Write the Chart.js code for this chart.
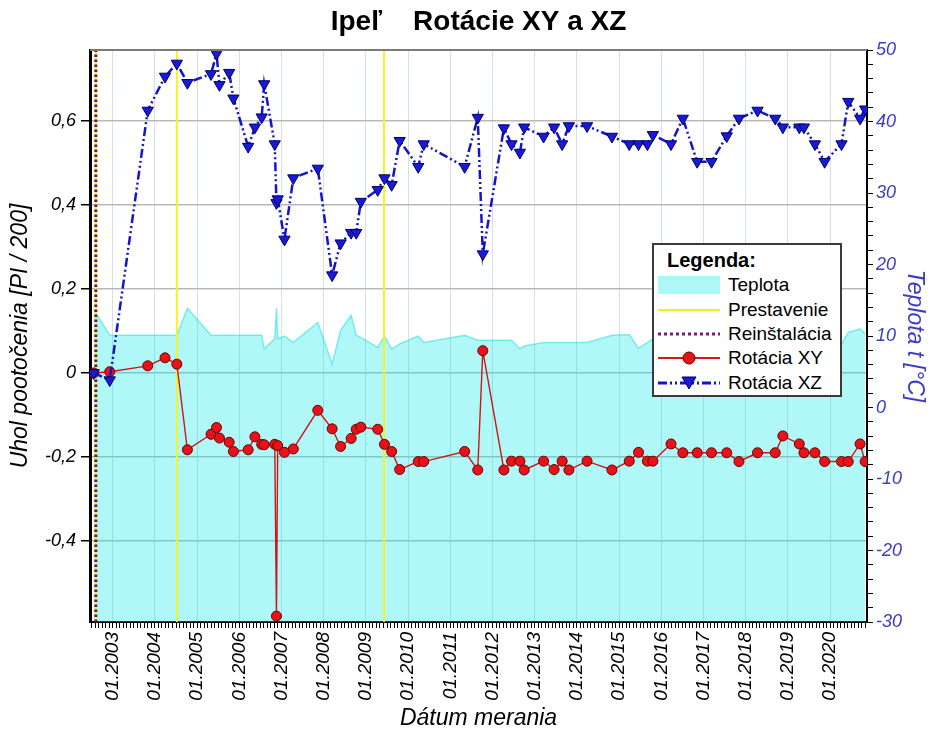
<!DOCTYPE html>
<html lang="sk">
<head>
<meta charset="utf-8">
<title>Ipeľ Rotácie XY a XZ</title>
<script src="https://cdn.jsdelivr.net/npm/chart.js@4.4.1/dist/chart.umd.min.js"></script>
<style>
  html, body { margin: 0; padding: 0; background: #fff; }
  #wrap { position: relative; width: 931px; height: 736px; }
  #chart { position: absolute; left: 0; top: 0; }
  #legend {
    position: absolute; left: 652px; top: 243px; width: 186px; height: 150px;
    border: 2px solid #3a3a3a; background: #fff; color: #000;
    font-family: 'Liberation Sans', Arial, sans-serif;
  }
  .lg-title { position: absolute; left: 13px; top: 3px; line-height: 24px; font-size: 20px; font-weight: bold; }
  .lg-row { position: absolute; left: 4px; height: 24px; line-height: 24px; font-size: 19px; display: flex; align-items: center; white-space: nowrap; }
  .lg-row svg { width: 62px; height: 20px; margin-right: 8px; flex: none; }
</style>
</head>
<body>
<div id="wrap">
  <canvas id="chart" width="931" height="736"></canvas>
  <div id="legend">
    <div class="lg-title">Legenda:</div>
    <div class="lg-row" style="top:28px"><svg viewBox="0 0 62 20"><rect x="0" y="1" width="62" height="18" fill="#aef7f7"/></svg><span>Teplota</span></div>
    <div class="lg-row" style="top:53px"><svg viewBox="0 0 62 20"><line x1="0" y1="10" x2="62" y2="10" stroke="#f0f020" stroke-width="2"/></svg><span>Prestavenie</span></div>
    <div class="lg-row" style="top:77px"><svg viewBox="0 0 62 20"><line x1="0" y1="10" x2="62" y2="10" stroke="#7a1a78" stroke-width="3" stroke-dasharray="3 3"/></svg><span>Reinštalácia</span></div>
    <div class="lg-row" style="top:101px"><svg viewBox="0 0 62 20"><line x1="0" y1="10" x2="62" y2="10" stroke="#d81818" stroke-width="2"/><circle cx="31" cy="10" r="6" fill="#e8121a" stroke="#6a0000" stroke-width="1"/></svg><span>Rotácia XY</span></div>
    <div class="lg-row" style="top:126px"><svg viewBox="0 0 62 20"><line x1="0" y1="10" x2="62" y2="10" stroke="#1414c8" stroke-width="3" stroke-dasharray="9 3 2 3 2 3"/><polygon points="24,4 38,4 31,16" fill="#1a1ad6" stroke="#00006a" stroke-width="1"/></svg><span>Rotácia XZ</span></div>
  </div>
</div>
<script>
// measurement dates as decimal years
const dates = [
  2002.55, 2002.93, 2003.83, 2004.24, 2004.52, 2004.77, 2005.33, 2005.46, 2005.53, 2005.76,
  2005.86, 2006.21, 2006.37, 2006.53, 2006.59, 2006.84, 2006.88, 2006.91, 2007.07, 2007.28,
  2007.86, 2008.20, 2008.40, 2008.65, 2008.77, 2008.88, 2009.28, 2009.44, 2009.61, 2009.80,
  2010.24, 2010.37, 2011.34, 2011.65, 2011.77, 2012.27, 2012.45, 2012.65, 2012.75, 2013.21,
  2013.46, 2013.65, 2013.81, 2014.24, 2014.83, 2015.24, 2015.46, 2015.67, 2015.80, 2016.23,
  2016.51, 2016.85, 2017.19, 2017.55, 2017.84, 2018.28, 2018.70, 2018.88, 2019.27, 2019.38,
  2019.64, 2019.87, 2020.27, 2020.43, 2020.71, 2020.83,
];

const rotXY = [
  0.000, 0.003, 0.017, 0.036, 0.021, -0.183, -0.146, -0.130, -0.155, -0.165,
  -0.187, -0.183, -0.152, -0.170, -0.171, -0.170, -0.579, -0.173, -0.189, -0.181,
  -0.089, -0.133, -0.175, -0.156, -0.134, -0.129, -0.134, -0.170, -0.187, -0.230,
  -0.211, -0.211, -0.187, -0.231, 0.053, -0.231, -0.210, -0.210, -0.231, -0.210,
  -0.230, -0.210, -0.231, -0.210, -0.231, -0.210, -0.189, -0.210, -0.210, -0.169,
  -0.190, -0.190, -0.190, -0.190, -0.211, -0.190, -0.190, -0.150, -0.169, -0.190,
  -0.190, -0.211, -0.211, -0.211, -0.169, -0.211,
];

const rotXZ = [
  0.000, -0.017, 0.625, 0.706, 0.737, 0.691, 0.712, 0.760, 0.686, 0.715,
  0.654, 0.539, 0.585, 0.609, 0.688, 0.545, 0.405, 0.414, 0.318, 0.464,
  0.487, 0.233, 0.309, 0.334, 0.334, 0.408, 0.436, 0.464, 0.448, 0.553,
  0.491, 0.545, 0.491, 0.608, 0.283, 0.583, 0.545, 0.525, 0.585, 0.563,
  0.585, 0.545, 0.588, 0.588, 0.563, 0.545, 0.545, 0.545, 0.567, 0.545,
  0.606, 0.503, 0.503, 0.564, 0.606, 0.625, 0.606, 0.585, 0.585, 0.585,
  0.545, 0.503, 0.545, 0.646, 0.606, 0.628,
];

const teplota = [
  13.7, 10.1, 10.1, 10.1, 10.1, 13.9, 10.1, 10.1, 10.1, 10.1,
  10.1, 10.1, 10.1, 10.1, 8.2, 9.6, 13.9, 9.6, 10.0, 9.1,
  11.9, 6.1, 10.8, 12.9, 10.1, 9.8, 8.4, 10.0, 8.2, 8.9,
  10.0, 9.1, 10.1, 9.4, 9.4, 9.4, 9.4, 8.2, 8.6, 9.1,
  9.1, 9.1, 9.1, 9.1, 10.1, 10.2, 8.3, 9.1, 9.6, 9.8,
  9.6, 9.8, 9.5, 9.7, 9.4, 9.8, 9.6, 9.9, 9.5, 9.7,
  9.3, 9.0, 8.9, 10.5, 11.0, 10.3,
];

const prestavenie = [2002.6, 2004.52, 2009.43];
const reinstalacia = [2002.6];

const years = [2003, 2004, 2005, 2006, 2007, 2008, 2009, 2010, 2011, 2012,
  2013, 2014, 2015, 2016, 2017, 2018, 2019, 2020];
const leftTicks = [-0.4, -0.2, 0, 0.2, 0.4, 0.6];
const rightTicks = [-30, -20, -10, 0, 10, 20, 30, 40, 50];

const xMin = 2002.462;
const xMax = 2020.874;
const leftMin = -0.593;
const leftMax = 0.769;

const fontFamily = "'Liberation Sans', Arial, sans-serif";
const blue = '#3c3cc8';

// monthly minor ticks on the date axis
const monthTicks = [];
for (let y = years[0] - 1; y <= years[years.length - 1]; y++) {
  for (let m = 0; m < 12; m++) {
    const v = y + m / 12;
    if (v >= xMin && v <= xMax) monthTicks.push(v);
  }
}
const isYear = (v) => Math.abs(v - Math.round(v)) < 1e-6;

// 2-degree minor ticks on the temperature axis
const rightMinor = [];
for (let v = rightTicks[0]; v <= rightTicks[rightTicks.length - 1]; v += 2) rightMinor.push(v);

const toPoints = (values) => dates.map((d, i) => ({ x: d, y: values[i] }));
const vertical = (d) => [{ x: d, y: leftMin }, { x: d, y: leftMax }];

const topFrame = {
  id: 'topFrame',
  afterDatasetsDraw(chart) {
    const { ctx, chartArea: a } = chart;
    ctx.save();
    ctx.strokeStyle = '#7a7a7a';
    ctx.lineWidth = 2;
    ctx.beginPath();
    ctx.moveTo(a.left, a.top);
    ctx.lineTo(a.right, a.top);
    ctx.stroke();
    ctx.restore();
  },
};

new Chart(document.querySelector('#chart'), {
  type: 'line',
  data: {
    datasets: [
      {
        label: 'Rotácia XZ', data: toPoints(rotXZ), yAxisID: 'y', order: 0,
        borderColor: '#1414c8', borderWidth: 2.5, borderDash: [9, 3, 2, 3, 2, 3],
        pointStyle: 'triangle', rotation: 180, pointRadius: 6.5,
        pointBackgroundColor: '#1a1ad6', pointBorderColor: '#00006a', pointBorderWidth: 1,
      },
      {
        label: 'Rotácia XY', data: toPoints(rotXY), yAxisID: 'y', order: 1,
        borderColor: '#d01414', borderWidth: 1.4,
        pointStyle: 'circle', pointRadius: 5,
        pointBackgroundColor: '#e8121a', pointBorderColor: '#6a0000', pointBorderWidth: 1,
      },
      ...reinstalacia.map((d) => ({
        label: 'Reinštalácia', data: vertical(d), yAxisID: 'y', order: 2,
        borderColor: '#6e1258', borderWidth: 3, borderDash: [2.5, 2.5], pointRadius: 0,
      })),
      ...prestavenie.map((d) => ({
        label: 'Prestavenie', data: vertical(d), yAxisID: 'y', order: 3,
        borderColor: '#f5f520', borderWidth: 2, pointRadius: 0,
      })),
      {
        label: 'Teplota', data: toPoints(teplota), yAxisID: 'yT', order: 4,
        fill: 'start', backgroundColor: 'rgba(0,232,232,0.31)',
        borderColor: 'rgba(0,215,215,0.45)', borderWidth: 1.5, pointRadius: 0,
      },
    ],
  },
  options: {
    responsive: false,
    animation: false,
    devicePixelRatio: 1,
    layout: { padding: 0 },
    plugins: {
      legend: { display: false },
      tooltip: { enabled: false },
      title: {
        display: true, fullSize: false, text: 'Ipeľ    Rotácie XY a XZ', color: '#000',
        font: { family: fontFamily, size: 28, weight: 'bold' },
        padding: { top: 5, bottom: 11.4 },
      },
    },
    scales: {
      x: {
        type: 'linear', position: 'bottom', min: xMin, max: xMax,
        afterFit(s) { s.height = 114; },
        afterBuildTicks(s) { s.ticks = monthTicks.map((v) => ({ value: v })); },
        ticks: {
          autoSkip: false, minRotation: 90, maxRotation: 90, padding: 4, color: '#000',
          font: { family: fontFamily, size: 19, style: 'italic' },
          callback: (v) => (isYear(v) ? '01.' + Math.round(v) : ''),
        },
        grid: {
          color: (c) => (c.tick && isYear(c.tick.value) ? '#d6dee6' : 'rgba(0,0,0,0)'),
          lineWidth: 1, tickColor: '#000', tickLength: 6,
        },
        border: { color: '#000', width: 2 },
        title: {
          display: true, text: 'Dátum merania', color: '#000',
          font: { family: fontFamily, size: 23, style: 'italic' },
          padding: { bottom: 4 },
        },
      },
      y: {
        type: 'linear', position: 'left', min: leftMin, max: leftMax,
        afterFit(s) { s.width = 90; },
        afterBuildTicks(s) { s.ticks = leftTicks.map((v) => ({ value: v })); },
        ticks: {
          color: '#000', padding: 5,
          font: { family: fontFamily, size: 18, style: 'italic' },
          callback: (v) => (v === 0 ? '0' : v.toFixed(1).replace('.', ',')),
        },
        grid: { color: '#b9b9b9', lineWidth: 1.5, tickColor: '#000', tickLength: 9 },
        border: { color: '#000', width: 3 },
        title: {
          display: true, text: 'Uhol pootočenia [PI / 200]', color: '#000',
          font: { family: fontFamily, size: 23, style: 'italic' },
          padding: { top: 7 },
        },
      },
      yT: {
        type: 'linear', position: 'right', min: rightTicks[0], max: rightTicks[rightTicks.length - 1],
        afterFit(s) { s.width = 64; },
        afterBuildTicks(s) { s.ticks = rightMinor.map((v) => ({ value: v })); },
        ticks: {
          autoSkip: false, color: blue, padding: 3,
          font: { family: fontFamily, size: 18, style: 'italic' },
          callback: (v) => (rightTicks.includes(v) ? String(v) : ''),
        },
        grid: { drawOnChartArea: false, tickColor: '#000', tickLength: 6 },
        border: { color: '#000', width: 2 },
        title: {
          display: true, text: 'Teplota t [°C]', color: blue,
          font: { family: fontFamily, size: 23, style: 'italic' },
          padding: { top: 3 },
        },
      },
    },
  },
  plugins: [topFrame],
});
</script>
</body>
</html>
